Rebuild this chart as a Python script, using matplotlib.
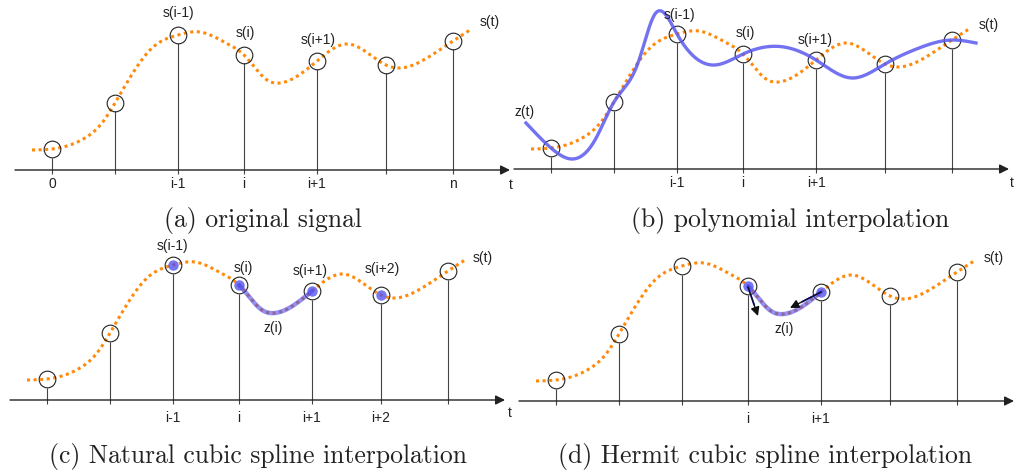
import numpy as np
import matplotlib
matplotlib.use("Agg")
import matplotlib.pyplot as plt

W, H = 1014, 472

# sample positions (horizontal units ~ pixels) and sampled heights s(k)
sample_t = [0, 63, 126, 192, 265, 334, 401]
sample_s = [21, 67, 135, 115, 109, 105, 129]

# points read along the dotted original signal s(t)
sig_t = [-20, 0, 33, 50, 63, 100, 126, 148, 174, 192, 215, 228, 265, 296, 334, 348, 375, 401, 418]
sig_s = [20, 21, 32, 47, 67, 122, 135, 138, 127, 115, 90, 87, 109, 126, 105, 102, 112, 129, 140]

# points read along the polynomial interpolation z(t) in panel (b)
z_t = [-25, 0, 21, 44, 63, 87, 104, 126, 164, 192, 233, 265, 301, 334, 368, 401, 425]
z_s = [46, 21, 10, 29, 67, 106, 155, 135, 104, 115, 122, 109, 91, 105, 121, 129, 126]

ticks_a = ["0", "", "i-1", "i", "i+1", "", "n"]
ticks_b = ["", "", "i-1", "i", "i+1", "", ""]
ticks_c = ["", "", "i-1", "i", "i+1", "i+2", ""]
ticks_d = ["", "", "", "i", "i+1", "", ""]

captions = ["(a) original signal", "(b) polynomial interpolation",
            "(c) Natural cubic spline interpolation", "(d) Hermit cubic spline interpolation"]

ORANGE = "#ff8a0a"
BLUE = "#4a4af0"
SANS = ["Liberation Sans", "DejaVu Sans"]


def spline(xs, ys, num=800):
    # natural cubic spline through the read points
    x = np.asarray(xs, float)
    y = np.asarray(ys, float)
    n = len(x)
    h = np.diff(x)
    A = np.zeros((n, n))
    b = np.zeros(n)
    A[0, 0] = A[-1, -1] = 1
    for i in range(1, n - 1):
        A[i, i - 1] = h[i - 1]
        A[i, i] = 2 * (h[i - 1] + h[i])
        A[i, i + 1] = h[i]
        b[i] = 6 * ((y[i + 1] - y[i]) / h[i] - (y[i] - y[i - 1]) / h[i - 1])
    M = np.linalg.solve(A, b)
    xx = np.linspace(x[0], x[-1], num)
    k = np.clip(np.searchsorted(x, xx) - 1, 0, n - 2)
    dx = xx - x[k]
    hk = h[k]
    yy = ((M[k + 1] - M[k]) / (6 * hk)) * dx**3 + (M[k] / 2) * dx**2 \
        + ((y[k + 1] - y[k]) / hk - hk * (2 * M[k] + M[k + 1]) / 6) * dx + y[k]
    return xx, yy


def panel(fig, x0, y0):
    ax = fig.add_axes([(x0 - 55) / W, (H - (y0 + 30)) / H, 525 / W, 205 / H])
    ax.set_xlim(-55, 470)
    ax.set_ylim(-30, 175)
    ax.axis("off")
    return ax


def base(ax, ticks, tick_dy):
    ax.annotate("", xy=(458, 0), xytext=(-37, 0),
                arrowprops=dict(arrowstyle="-|>", color="#222222", lw=1.0,
                                mutation_scale=14, shrinkA=0, shrinkB=0))
    ax.vlines(sample_t, -4, np.array(sample_s) - 8.5, color="#444444", lw=0.8)
    sx, sy = spline(sig_t, sig_s)
    ax.plot(sx, sy, color=ORANGE, lw=2.2, ls=(0, (1, 1.15)),
            dash_capstyle="butt", clip_on=False)
    ax.plot(sample_t, sample_s, "o", ms=12, mfc="none", mec="#222222", mew=0.8, clip_on=False)
    for t, lab in zip(sample_t, ticks):
        if lab:
            ax.text(t, tick_dy, lab, ha="center", va="center", fontsize=10,
                    family=SANS, color="#222222")
    return sx, sy


def lab(ax, x, y, s):
    ax.text(x, y, s, ha="center", va="center", fontsize=10, family=SANS, color="#222222")


def blue_segment(ax, sx, sy):
    m = (sx >= sample_t[3]) & (sx <= sample_t[4])
    ax.plot(sx[m], sy[m], color=BLUE, lw=3.2, alpha=0.6, solid_capstyle="round")


def blue_dots(ax, idx):
    ax.plot([sample_t[i] for i in idx], [sample_s[i] for i in idx], "o", ms=7.5,
            color=BLUE, alpha=0.75, mec="none")


fig = plt.figure(figsize=(W / 100, H / 100), dpi=100)

# (a)
ax = panel(fig, 52, 170)
base(ax, ticks_a, -14)
lab(ax, 126, 157, "s(i-1)")
lab(ax, 193, 137, "s(i)")
lab(ax, 266, 130, "s(i+1)")
lab(ax, 438, 148, "s(t)")
lab(ax, 459, -15, "t")

# (b)
ax = panel(fig, 551, 169)
base(ax, ticks_b, -14)
zx, zy = spline(z_t, z_s)
ax.plot(zx, zy, color="#5a5af0", lw=2.4, alpha=0.85, clip_on=False)
lab(ax, 128, 154, "s(i-1)")
lab(ax, 194, 136, "s(i)")
lab(ax, 264, 129, "s(i+1)")
lab(ax, 438, 144, "s(t)")
lab(ax, -26, 57, "z(t)")
lab(ax, 461, -14, "t")

# (c)
ax = panel(fig, 47, 400)
sx, sy = base(ax, ticks_c, -18)
blue_segment(ax, sx, sy)
blue_dots(ax, [2, 3, 4, 5])
lab(ax, 125, 154, "s(i-1)")
lab(ax, 196, 132, "s(i)")
lab(ax, 263, 129, "s(i+1)")
lab(ax, 335, 131, "s(i+2)")
lab(ax, 436, 142, "s(t)")
lab(ax, 226, 72, "z(i)")
lab(ax, 463, -13, "t")

# (d)
ax = panel(fig, 556, 401)
sx, sy = base(ax, ticks_d, -18)
blue_segment(ax, sx, sy)
blue_dots(ax, [3, 4])
for start, tip in [((192, 114), (202, 85)), ((265, 109), (234, 93))]:
    ax.annotate("", xy=tip, xytext=start,
                arrowprops=dict(arrowstyle="-|>", color="#111111", lw=1.0,
                                mutation_scale=13, shrinkA=0, shrinkB=0))
    mid = (start[0] + 0.6 * (tip[0] - start[0]), start[1] + 0.6 * (tip[1] - start[1]))
    ax.plot([start[0], mid[0]], [start[1], mid[1]], color="#3030f0", lw=1.3)
lab(ax, 438, 143, "s(t)")
lab(ax, 228, 72, "z(i)")

# captions
for (cx, cy), txt in zip([(263, 220), (790, 220), (258, 456), (765, 456)], captions):
    fig.text(cx / W, 1 - cy / H, txt, ha="center", va="center",
             family="cmr10", fontsize=18.5, color="#222222")

fig.savefig("out.png", dpi=100)
